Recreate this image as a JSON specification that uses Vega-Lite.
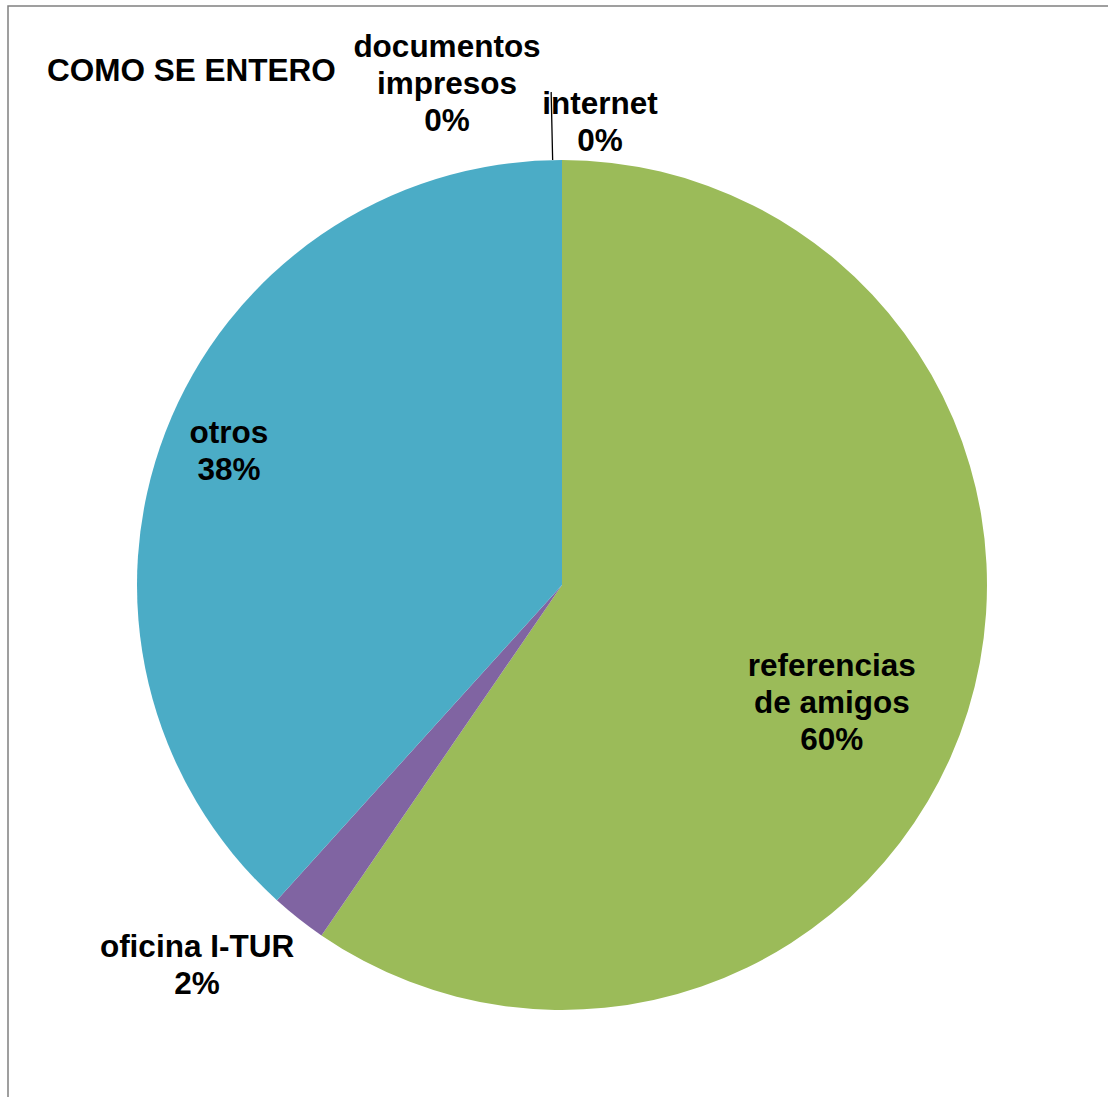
{
  "$schema": "https://vega.github.io/schema/vega-lite/v6.json",
  "autosize": {"type": "none"},
  "width": 1108,
  "height": 1158,
  "padding": {"left": 8, "top": 6, "right": -8, "bottom": -67},
  "background": "white",
  "title": {
    "text": "COMO SE ENTERO",
    "anchor": "start",
    "frame": "group",
    "baseline": "middle",
    "offset": 0,
    "dx": 39,
    "dy": 110,
    "font": "Liberation Sans",
    "fontSize": 31.5,
    "fontWeight": "bold",
    "color": "black"
  },
  "data": {
    "values": [
      {"fuente": "documentos impresos", "casos": 0, "orden": 1, "etiqueta": "documentos\nimpresos\n0%"},
      {"fuente": "internet", "casos": 0, "orden": 2, "etiqueta": "internet\n0%"},
      {"fuente": "referencias de amigos", "casos": 56, "orden": 3, "etiqueta": "referencias\nde amigos\n60%"},
      {"fuente": "oficina I-TUR", "casos": 2, "orden": 4, "etiqueta": "oficina I-TUR\n2%"},
      {"fuente": "otros", "casos": 36, "orden": 5, "etiqueta": "otros\n38%"}
    ]
  },
  "encoding": {
    "theta": {"field": "casos", "type": "quantitative", "stack": true},
    "order": {"field": "orden", "type": "quantitative"}
  },
  "layer": [
    {
      "mark": {"type": "arc", "radius": 425},
      "encoding": {
        "color": {
          "field": "fuente",
          "type": "nominal",
          "legend": null,
          "scale": {
            "domain": ["documentos impresos", "internet", "referencias de amigos", "oficina I-TUR", "otros"],
            "range": ["#4F81BD", "#C0504D", "#9BBB59", "#8064A2", "#4BACC6"]
          }
        }
      }
    },
    {
      "mark": {"type": "arc", "radius": 425, "radius2": 493, "thetaOffset": -0.022, "fillOpacity": 0, "stroke": "black", "strokeWidth": 1.3},
      "encoding": {
        "strokeOpacity": {"condition": {"test": "datum.fuente === 'documentos impresos'", "value": 1}, "value": 0}
      }
    },
    {
      "mark": {"type": "text", "radius": 501, "dx": -115, "dy": -36, "align": "center", "baseline": "middle", "lineBreak": "\n", "lineHeight": 37, "font": "Liberation Sans", "fontSize": 31.5, "fontWeight": "bold", "color": "black"},
      "encoding": {
        "text": {"condition": {"test": "datum.fuente === 'documentos impresos'", "field": "etiqueta"}, "value": ""}
      }
    },
    {
      "mark": {"type": "text", "radius": 463, "dx": 38, "dy": -17, "align": "center", "baseline": "middle", "lineBreak": "\n", "lineHeight": 37, "font": "Liberation Sans", "fontSize": 31.5, "fontWeight": "bold", "color": "black"},
      "encoding": {
        "text": {"condition": {"test": "datum.fuente === 'internet'", "field": "etiqueta"}, "value": ""}
      }
    },
    {
      "mark": {"type": "text", "radius": 294, "dx": -11, "dy": -5, "align": "center", "baseline": "middle", "lineBreak": "\n", "lineHeight": 37, "font": "Liberation Sans", "fontSize": 31.5, "fontWeight": "bold", "color": "black"},
      "encoding": {
        "text": {"condition": {"test": "datum.fuente === 'referencias de amigos'", "field": "etiqueta"}, "value": ""}
      }
    },
    {
      "mark": {"type": "text", "radius": 526, "dx": -39, "dy": -50, "align": "center", "baseline": "middle", "lineBreak": "\n", "lineHeight": 37, "font": "Liberation Sans", "fontSize": 31.5, "fontWeight": "bold", "color": "black"},
      "encoding": {
        "text": {"condition": {"test": "datum.fuente === 'oficina I-TUR'", "field": "etiqueta"}, "value": ""}
      }
    },
    {
      "mark": {"type": "text", "radius": 358, "dx": 1, "dy": -22, "align": "center", "baseline": "middle", "lineBreak": "\n", "lineHeight": 37, "font": "Liberation Sans", "fontSize": 31.5, "fontWeight": "bold", "color": "black"},
      "encoding": {
        "text": {"condition": {"test": "datum.fuente === 'otros'", "field": "etiqueta"}, "value": ""}
      }
    }
  ],
  "config": {
    "view": {"stroke": "#808080", "strokeWidth": 1.5},
    "style": {"view": {"stroke": "#808080", "strokeWidth": 1.5}}
  }
}
